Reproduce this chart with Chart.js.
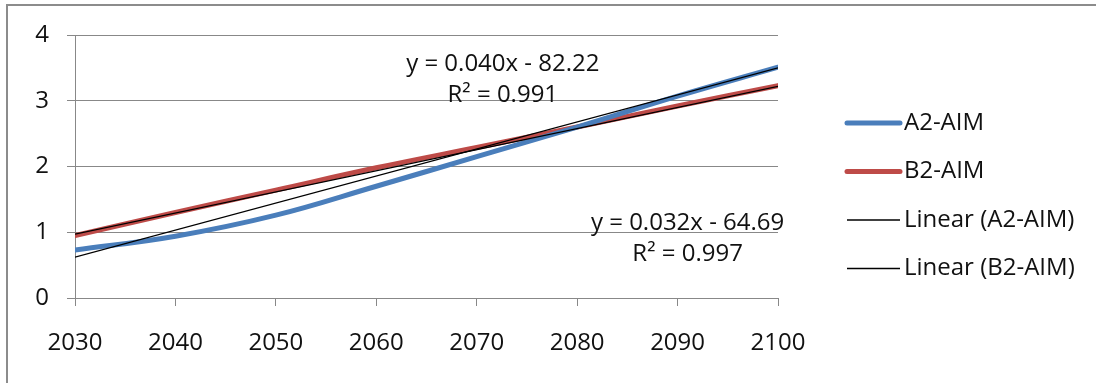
<!DOCTYPE html>
<html>
<head>
<meta charset="utf-8">
<script src="https://cdn.jsdelivr.net/npm/chart.js@4.4.1/dist/chart.umd.min.js"></script>
<style>
  html, body { margin: 0; padding: 0; background: #fff; }
  #wrap { position: relative; width: 1096px; height: 383px; overflow: hidden; }
  #frame { position: absolute; left: 6px; top: 4px; width: 1200px; height: 400px;
           border-left: 2px solid #8c8c8c; border-top: 2px solid #8c8c8c; }
  canvas { position: absolute; left: 0; top: 0; }
</style>
</head>
<body>
<div id="wrap">
  <div id="frame"></div>
  <canvas id="c" width="1096" height="383"></canvas>
</div>
<script>
// ---- data ----
const years = [2030, 2040, 2050, 2060, 2070, 2080, 2090, 2100];
const a2aim = [0.73, 0.94, 1.26, 1.70, 2.15, 2.60, 3.07, 3.51];
const b2aim = [0.95, 1.30, 1.64, 1.98, 2.29, 2.60, 2.92, 3.23];
// trendline values at the first and last year (as drawn)
const trendA2 = [0.62, 3.50];
const trendB2 = [0.97, 3.22];
const seriesLabels = ['A2-AIM', 'B2-AIM', 'Linear (A2-AIM)', 'Linear (B2-AIM)'];
const eqA2 = ['y = 0.040x - 82.22', 'R\u00B2 = 0.991'];
const eqB2 = ['y = 0.032x - 64.69', 'R\u00B2 = 0.997'];
const yTicks = [0, 1, 2, 3, 4];
const xTicks = [2030, 2040, 2050, 2060, 2070, 2080, 2090, 2100];

const FONT = '"Open Sans", "DejaVu Sans", sans-serif';
const FS = 24;
const TXT = '#111111';
const GRID = '#888888';
const BLUE = '#4a7ebb';
const RED = '#be4b48';

const pts = arr => years.map((x, i) => ({ x, y: arr[i] }));
const trendPts = t => [{ x: years[0], y: t[0] }, { x: years[years.length - 1], y: t[1] }];

const annotations = {
  id: 'annotations',
  afterDatasetsDraw(chart) {
    const { ctx, scales: { x, y } } = chart;
    ctx.save();
    ctx.font = FS + 'px ' + FONT;
    ctx.fillStyle = TXT;
    ctx.textAlign = 'center';
    ctx.textBaseline = 'middle';
    // equation labels placed in data space
    ctx.fillText(eqA2[0], x.getPixelForValue(2072.6), y.getPixelForValue(3.56));
    ctx.fillText(eqA2[1], x.getPixelForValue(2072.6), y.getPixelForValue(3.08));
    ctx.fillText(eqB2[0], x.getPixelForValue(2091.0), y.getPixelForValue(1.14));
    ctx.fillText(eqB2[1], x.getPixelForValue(2091.0), y.getPixelForValue(0.66));

    // custom legend
    const ds = chart.data.datasets;
    const lx = 847, sw = 53, ty0 = 123, dy = 48.5;
    ctx.textAlign = 'left';
    ds.forEach((d, i) => {
      const yy = ty0 + i * dy;
      ctx.beginPath();
      ctx.strokeStyle = d.borderColor;
      ctx.lineWidth = d.borderWidth;
      ctx.lineCap = d.borderWidth > 2 ? 'round' : 'butt';
      ctx.moveTo(lx, yy);
      ctx.lineTo(lx + sw, yy);
      ctx.stroke();
      ctx.fillStyle = TXT;
      ctx.fillText(d.label, lx + sw + 4, yy);
    });
    ctx.restore();
  }
};

new Chart(document.getElementById('c'), {
  type: 'line',
  data: {
    datasets: [
      { label: seriesLabels[0], data: pts(a2aim), borderColor: BLUE, borderWidth: 5,
        tension: 0.4, pointRadius: 0, order: 2, borderCapStyle: 'round' },
      { label: seriesLabels[1], data: pts(b2aim), borderColor: RED, borderWidth: 5,
        tension: 0.4, pointRadius: 0, order: 2, borderCapStyle: 'round' },
      { label: seriesLabels[2], data: trendPts(trendA2), borderColor: '#000000', borderWidth: 1.3,
        tension: 0, pointRadius: 0, order: 1 },
      { label: seriesLabels[3], data: trendPts(trendB2), borderColor: '#000000', borderWidth: 1.3,
        tension: 0, pointRadius: 0, order: 1 }
    ]
  },
  options: {
    responsive: false,
    animation: false,
    events: [],
    layout: { padding: { left: 0, top: 35, right: 318, bottom: 0 } },
    plugins: { legend: { display: false }, tooltip: { enabled: false } },
    scales: {
      x: {
        type: 'linear',
        min: xTicks[0], max: xTicks[xTicks.length - 1],
        afterBuildTicks: s => { s.ticks = xTicks.map(v => ({ value: v })); },
        afterFit: s => { s.height = 85; },
        border: { color: GRID, width: 1 },
        grid: { drawOnChartArea: false, drawTicks: true, tickLength: 8, color: GRID },
        ticks: { color: TXT, font: { family: FONT, size: FS }, padding: 23,
                 maxRotation: 0, autoSkip: false, callback: v => String(v) }
      },
      y: {
        min: 0, max: 4,
        afterBuildTicks: s => { s.ticks = yTicks.map(v => ({ value: v })); },
        afterFit: s => { s.width = 75; },
        border: { color: GRID, width: 1 },
        grid: { color: GRID, tickLength: 8, drawTicks: true },
        ticks: { color: TXT, font: { family: FONT, size: FS }, padding: 18,
                 callback: v => String(v) }
      }
    }
  },
  plugins: [annotations]
});
</script>
</body>
</html>
